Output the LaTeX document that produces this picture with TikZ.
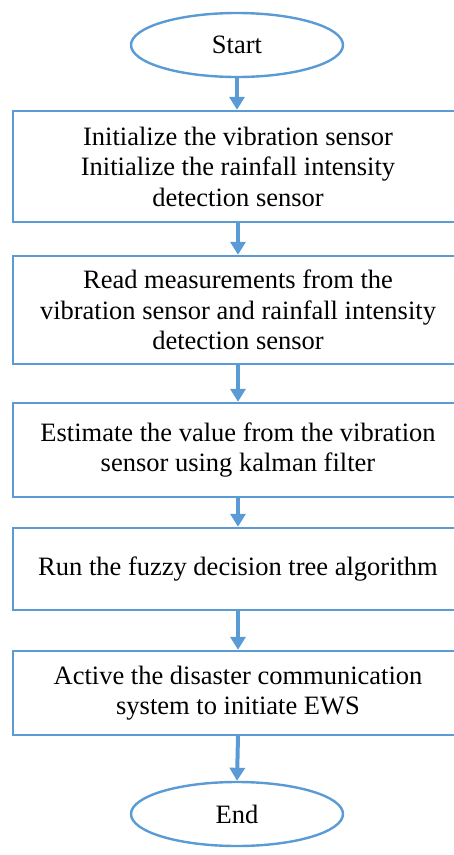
\documentclass[tikz,border=0pt]{standalone}
\usepackage{fontspec}
\setmainfont{Liberation Serif}
\usetikzlibrary{shapes.geometric,arrows.meta}
\definecolor{blu}{HTML}{5B9BD5}
\begin{document}
\begin{tikzpicture}[x=1pt,y=-1pt,
  term/.style={ellipse,draw=blu,line width=2.4pt,minimum width=212pt,minimum height=64pt,inner sep=0pt,font=\fontsize{26.5}{30.5}\selectfont},
  proc/.style={rectangle,draw=blu,line width=2.4pt,minimum width=450pt,inner sep=0pt,align=center,font=\fontsize{26.5}{30.5}\selectfont},
  flow/.style={draw=blu,line width=4pt,-{Triangle[width=15pt,length=13pt]}}]
\useasboundingbox (0,0) rectangle (454,855);
\node[term] (start) at (237,45) {Start};
\node[proc,minimum height=111pt] (b1) at (238,166.5) {Initialize the vibration sensor\\Initialize the rainfall intensity\\detection sensor};
\node[proc,minimum height=108pt] (b2) at (238,310) {Read measurements from the\\vibration sensor and rainfall intensity\\detection sensor};
\node[proc,minimum height=94pt] (b3) at (238,450) {Estimate the value from the vibration\\sensor using kalman filter};
\node[proc,minimum height=82pt] (b4) at (238,569) {Run the fuzzy decision tree algorithm};
\node[proc,minimum height=84pt] (b5) at (238,693) {Active the disaster communication\\system to initiate EWS};
\node[term] (end) at (237,814) {End};
\draw[flow] (start.south) -- (start.south |- b1.north);
\draw[flow] (b1.south) -- (b2.north);
\draw[flow] (b2.south) -- (b3.north);
\draw[flow] (b3.south) -- (b4.north);
\draw[flow] (b4.south) -- (b5.north);
\draw[flow] (b5.south) -- (end.north);
\end{tikzpicture}
\end{document}
